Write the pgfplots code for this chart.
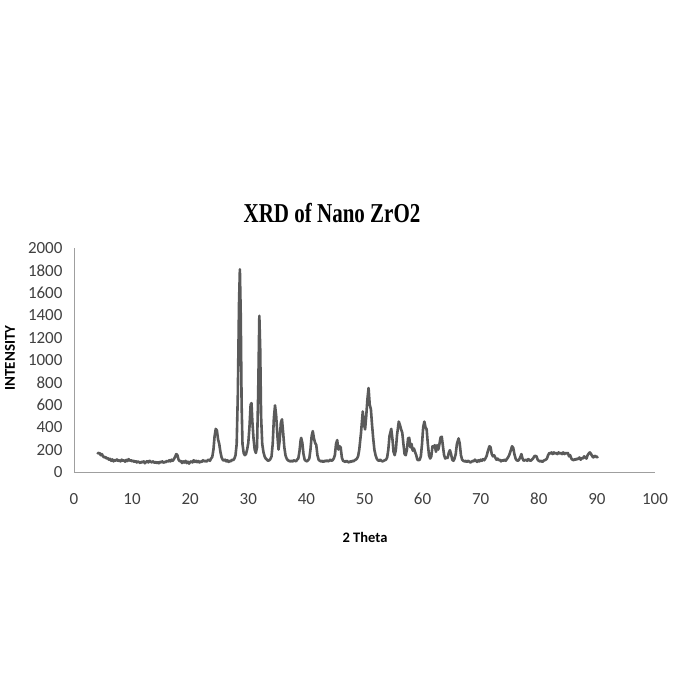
\documentclass[border=0pt]{standalone}
\usepackage{pgfplots}
\pgfplotsset{compat=1.18}
\usepackage{fontspec}
\setmainfont{Carlito}
\newfontfamily\titlefont{Liberation Serif}
\definecolor{xrdline}{HTML}{5A5A5A}
\begin{document}
\begin{tikzpicture}
\path[use as bounding box] (0pt,0pt) rectangle (675pt,675pt);
\begin{axis}[
  at={(74pt,203pt)}, anchor=south west,
  scale only axis, width=581pt, height=224pt,
  xmin=0, xmax=100, ymin=0, ymax=2000,
  axis lines=left,
  axis line style={-, draw=gray!75, line width=0.8pt},
  xtick={0,10,...,100}, ytick={0,200,...,2000},
  major tick length=0pt,
  tick label style={font=\fontsize{17}{17}\selectfont, text=black!75},
  /pgf/number format/assume math mode=true,
  /pgf/number format/set thousands separator={},
  xticklabel style={yshift=-17pt, text height=12pt, text depth=0pt},
  yticklabel style={xshift=-8pt},
  clip=false,
]
\addplot[color=xrdline, line width=2.6pt, line join=round] coordinates {
(4.0,175)(4.2,165)(4.4,170)(4.6,150)(4.8,160)(5.0,140)(5.2,130)(5.4,135)(5.6,120)(5.8,125)
(6.0,110)(6.2,118)(6.4,100)(6.6,112)(6.8,95)(7.0,108)(7.2,100)(7.4,112)(7.6,98)(7.8,105)
(8.0,95)(8.2,110)(8.4,100)(8.6,105)(8.8,92)(9.0,108)(9.2,98)(9.4,115)(9.6,100)(9.8,106)
(10.0,95)(10.2,102)(10.4,90)(10.6,98)(10.8,85)(11.0,95)(11.2,88)(11.4,80)(11.6,92)(11.8,85)
(12.0,95)(12.2,78)(12.4,90)(12.6,98)(12.8,85)(13.0,100)(13.2,92)(13.4,85)(13.6,95)(13.8,82)
(14.0,90)(14.2,80)(14.4,88)(14.6,78)(14.8,92)(15.0,85)(15.2,95)(15.4,82)(15.6,90)(15.8,88)
(16.0,100)(16.2,92)(16.4,105)(16.6,95)(16.8,110)(17.0,100)(17.2,115)(17.4,135)(17.6,160)(17.8,150)
(18.0,110)(18.2,95)(18.4,100)(18.6,80)(18.8,95)(19.0,85)(19.2,100)(19.4,80)(19.6,92)(19.8,75)
(20.0,90)(20.2,95)(20.4,85)(20.6,105)(20.8,90)(21.0,100)(21.2,88)(21.4,98)(21.6,85)(21.8,95)
(22.0,90)(22.2,105)(22.4,95)(22.6,100)(22.8,92)(23.0,105)(23.2,110)(23.4,100)(23.6,120)(23.8,135)
(24.0,200)(24.2,320)(24.4,385)(24.6,370)(24.8,290)(25.0,250)(25.2,180)(25.4,130)(25.6,110)(25.8,100)
(26.0,110)(26.2,95)(26.4,105)(26.6,90)(26.8,100)(27.0,95)(27.2,110)(27.4,105)(27.6,120)(27.8,150)
(28.0,250)(28.2,700)(28.4,1500)(28.55,1810)(28.7,1400)(28.85,600)(29.0,250)(29.2,170)(29.4,150)(29.6,160)
(29.8,200)(30.0,260)(30.2,400)(30.4,600)(30.55,615)(30.7,450)(30.9,300)(31.1,200)(31.3,170)(31.5,220)
(31.7,700)(31.9,1395)(32.05,1100)(32.2,500)(32.4,250)(32.6,180)(32.8,140)(33.0,120)(33.2,110)(33.4,100)
(33.6,105)(33.8,115)(34.0,140)(34.2,250)(34.4,480)(34.6,595)(34.8,500)(35.0,330)(35.2,200)(35.4,280)
(35.6,440)(35.8,470)(36.0,350)(36.2,220)(36.4,150)(36.6,120)(36.8,105)(37.0,100)(37.2,95)(37.4,100)
(37.6,92)(37.8,105)(38.0,100)(38.2,95)(38.4,110)(38.6,120)(38.8,180)(39.0,280)(39.1,305)(39.3,260)
(39.5,160)(39.7,110)(39.9,100)(40.1,95)(40.3,105)(40.5,120)(40.7,200)(40.9,320)(41.1,365)(41.3,300)
(41.5,260)(41.7,240)(41.9,150)(42.1,110)(42.3,100)(42.5,95)(42.7,100)(42.9,90)(43.1,100)(43.3,95)
(43.5,105)(43.7,95)(43.9,100)(44.1,110)(44.3,100)(44.5,105)(44.7,120)(44.9,150)(45.1,250)(45.3,285)
(45.5,200)(45.7,230)(45.9,220)(46.1,130)(46.3,100)(46.5,95)(46.7,90)(46.9,100)(47.1,92)(47.3,85)
(47.5,95)(47.7,90)(47.9,100)(48.1,95)(48.3,105)(48.5,110)(48.7,120)(48.9,140)(49.1,200)(49.4,350)
(49.7,540)(49.9,430)(50.1,380)(50.3,500)(50.5,650)(50.7,750)(50.9,600)(51.1,560)(51.3,420)(51.5,300)
(51.7,200)(51.9,150)(52.1,120)(52.3,105)(52.5,100)(52.7,110)(52.9,100)(53.1,95)(53.3,100)(53.5,105)
(53.7,110)(53.9,130)(54.1,200)(54.3,320)(54.6,385)(54.8,300)(55.0,180)(55.2,150)(55.4,200)(55.6,330)
(55.9,450)(56.1,420)(56.3,380)(56.5,350)(56.7,250)(56.9,160)(57.1,150)(57.3,200)(57.5,300)(57.7,305)
(57.9,220)(58.1,250)(58.3,190)(58.5,210)(58.7,180)(58.9,150)(59.1,110)(59.3,105)(59.5,110)(59.7,140)
(59.9,250)(60.1,400)(60.3,450)(60.5,400)(60.7,380)(60.9,250)(61.1,150)(61.3,120)(61.5,140)(61.7,230)
(61.9,220)(62.1,240)(62.3,180)(62.5,240)(62.7,200)(62.9,250)(63.1,310)(63.3,315)(63.5,230)(63.7,150)
(63.9,120)(64.1,130)(64.3,125)(64.5,170)(64.7,195)(64.9,160)(65.1,110)(65.3,100)(65.5,120)(65.7,160)
(65.9,250)(66.2,300)(66.4,250)(66.6,150)(66.8,110)(67.0,100)(67.2,95)(67.4,100)(67.6,90)(67.8,100)
(68.0,95)(68.2,85)(68.4,90)(68.6,100)(68.8,95)(69.0,110)(69.2,100)(69.4,90)(69.6,105)(69.8,95)
(70.0,110)(70.2,100)(70.4,115)(70.6,105)(70.8,120)(71.0,140)(71.2,180)(71.5,230)(71.7,220)(71.9,160)
(72.1,140)(72.3,150)(72.5,130)(72.7,110)(72.9,120)(73.1,105)(73.3,110)(73.5,95)(73.7,105)(73.9,100)
(74.1,110)(74.3,100)(74.5,115)(74.7,130)(74.9,150)(75.1,180)(75.4,230)(75.6,215)(75.8,160)(76.0,120)
(76.2,105)(76.4,100)(76.6,110)(76.8,130)(77.0,160)(77.2,120)(77.4,100)(77.6,105)(77.8,110)(78.0,100)
(78.2,115)(78.4,105)(78.6,100)(78.8,110)(79.0,120)(79.3,145)(79.6,140)(79.8,110)(80.0,100)(80.2,95)
(80.4,100)(80.6,90)(80.8,100)(81.0,105)(81.2,110)(81.4,120)(81.6,150)(81.8,170)(82.0,165)(82.2,175)
(82.4,160)(82.6,175)(82.8,165)(83.0,170)(83.2,160)(83.4,175)(83.6,165)(83.8,170)(84.0,160)(84.2,175)
(84.4,160)(84.6,170)(84.8,165)(85.0,170)(85.2,140)(85.4,150)(85.6,120)(85.8,110)(86.0,105)(86.2,115)
(86.4,110)(86.6,120)(86.8,115)(87.0,130)(87.2,110)(87.4,125)(87.6,120)(87.8,140)(88.0,130)(88.2,120)
(88.4,150)(88.6,165)(88.8,175)(89.0,160)(89.2,140)(89.4,130)(89.6,145)(89.8,140)(90.0,130)(90.2,140)
};
\end{axis}
\node at (332pt,462pt) {\scalebox{1}[1.3]{\titlefont\bfseries\fontsize{21}{21}\selectfont XRD of Nano ZrO2}};
\node at (365pt,138pt) {\bfseries\fontsize{14.5}{14.5}\selectfont 2 Theta};
\node[rotate=90] at (10pt,317pt) {\bfseries\fontsize{15}{15}\selectfont INTENSITY};
\end{tikzpicture}
\end{document}
